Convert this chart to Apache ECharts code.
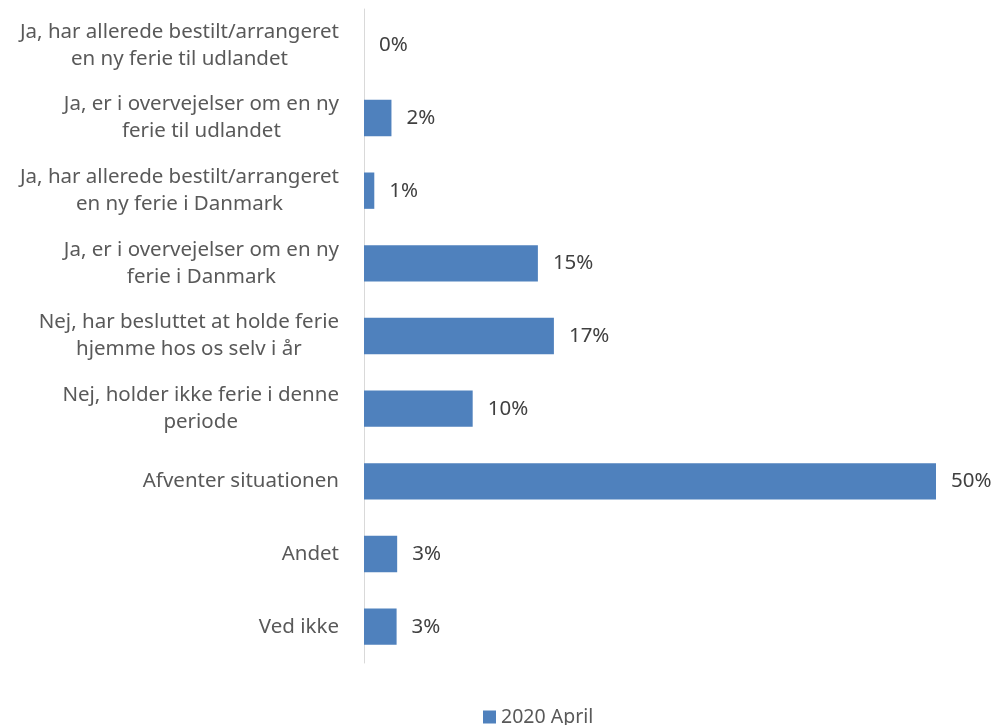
<!DOCTYPE html>
<html>
<head>
<meta charset="utf-8">
<script src="https://cdn.jsdelivr.net/npm/echarts@6/dist/echarts.min.js"></script>
<style>html,body{margin:0;padding:0;background:#fff}#c{width:998px;height:725px}</style>
</head>
<body>
<div id="c"></div>
<script>
const categories = [
  "Ja, har allerede bestilt/arrangeret\nen ny ferie til udlandet",
  "Ja, er i overvejelser om en ny\nferie til udlandet",
  "Ja, har allerede bestilt/arrangeret\nen ny ferie i Danmark",
  "Ja, er i overvejelser om en ny\nferie i Danmark",
  "Nej, har besluttet at holde ferie\nhjemme hos os selv i år",
  "Nej, holder ikke ferie i denne\nperiode",
  "Afventer situationen",
  "Andet",
  "Ved ikke"
];
const seriesName = "2020 April";
const values = [0, 2.4, 0.9, 15.2, 16.6, 9.5, 50, 2.9, 2.85];

const FONT = "Noto Sans";
const chart = echarts.init(document.getElementById('c'));
chart.setOption({
  animation: false,
  textStyle: { fontFamily: FONT },
  grid: { left: 364, right: 62, top: 9, bottom: 62, containLabel: false },
  xAxis: {
    type: 'value', min: 0, max: 50,
    axisLine: { show: false }, axisTick: { show: false },
    axisLabel: { show: false }, splitLine: { show: false }
  },
  yAxis: {
    type: 'category', inverse: true, data: categories,
    axisLine: { show: true, lineStyle: { color: '#d9d9d9', width: 1 } },
    axisTick: { show: false },
    axisLabel: {
      margin: 25, align: 'right', color: '#595959', fontSize: 20.5, fontFamily: FONT,
      lineHeight: 27,
      formatter: function (v) {
        return v.split('\n').map(function (l) { return '{c|' + l + '}'; }).join('\n');
      },
      rich: { c: { align: 'center', color: '#595959', fontSize: 20.5, fontFamily: FONT, lineHeight: 27 } }
    }
  },
  legend: {
    top: 702, left: 478, icon: 'rect', itemWidth: 13, itemHeight: 13, itemGap: 6,
    textStyle: { color: '#595959', fontSize: 19.5, fontFamily: FONT },
    data: [seriesName]
  },
  series: [{
    name: seriesName, type: 'bar', data: values, barCategoryGap: '50%',
    itemStyle: { color: '#4f81bd' },
    label: {
      show: true, position: 'right', distance: 15, color: '#404040', fontSize: 20.5, fontFamily: FONT,
      formatter: function (p) { return Math.round(p.value) + '%'; }
    }
  }]
});
</script>
</body>
</html>
